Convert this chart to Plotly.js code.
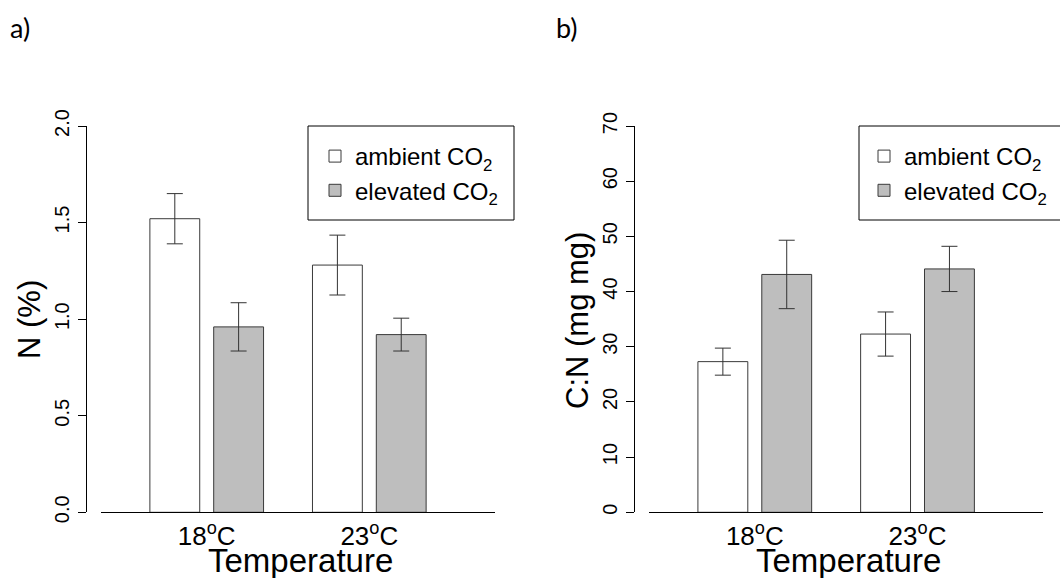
<!DOCTYPE html>
<html>
<head>
<meta charset="utf-8">
<script src="https://cdn.plot.ly/plotly-3.0.1.min.js"></script>
<style>
  html, body { margin: 0; padding: 0; background: #ffffff; }
  #chart { width: 1060px; height: 578px; }
</style>
</head>
<body>
<div id="chart"></div>
<script>
// ---- data ----
const temps = ['18<sup>o</sup>C', '23<sup>o</sup>C'];
const seriesNames = ['ambient CO<sub>2</sub>', 'elevated CO<sub>2</sub>'];

// panel a: N (%)
const nAmbient = [1.52, 1.28];
const nAmbientErr = [0.13, 0.155];
const nElevated = [0.96, 0.92];
const nElevatedErr = [0.125, 0.085];

// panel b: C:N
const cnAmbient = [27.3, 32.3];
const cnAmbientErr = [2.45, 4.0];
const cnElevated = [43.1, 44.1];
const cnElevatedErr = [6.2, 4.1];

// ---- style ----
const W = 1060, H = 578;
const px = v => v / W;
const py = v => 1 - v / H;
const FONT = 'Liberation Sans, Arial, sans-serif';
const fills = ['#ffffff', '#bebebe'];
const edge = '#3a3a3a';

function barTrace(y, err, idx, xa, ya, leg) {
  return {
    type: 'bar',
    x: temps,
    y: y,
    name: seriesNames[idx],
    xaxis: xa,
    yaxis: ya,
    legend: leg,
    marker: { color: fills[idx], line: { color: edge, width: 1 } },
    error_y: { type: 'data', array: err, visible: true, color: '#333333', thickness: 1, width: 8 },
    hoverinfo: 'skip'
  };
}

const data = [
  barTrace(nAmbient, nAmbientErr, 0, 'x', 'y', 'legend'),
  barTrace(nElevated, nElevatedErr, 1, 'x', 'y', 'legend'),
  barTrace(cnAmbient, cnAmbientErr, 0, 'x2', 'y2', 'legend2'),
  barTrace(cnElevated, cnElevatedErr, 1, 'x2', 'y2', 'legend2')
];

const xCommon = {
  type: 'category',
  range: [-0.652, 1.773],
  showline: true, linecolor: '#000000', linewidth: 1,
  ticks: '', showgrid: false, zeroline: false,
  tickfont: { family: FONT, size: 26, color: '#000000' }
};
const yCommon = {
  anchor: 'free',
  showline: true, linecolor: '#000000', linewidth: 1,
  ticks: 'outside', ticklen: 8, tickcolor: '#000000', tickwidth: 1,
  tickangle: -90, showgrid: false, zeroline: false,
  ticklabelstandoff: 1,
  tickfont: { family: FONT, size: 20, color: '#000000' },
  domain: [py(512.3), py(126)]
};

const legendCommon = {
  bgcolor: 'rgba(0,0,0,0)', borderwidth: 0,
  font: { family: FONT, size: 24, color: '#000000' },
  xanchor: 'left', yanchor: 'top', traceorder: 'normal'
};

const layout = {
  width: W, height: H,
  margin: { l: 0, r: 0, t: 0, b: 0 },
  paper_bgcolor: '#ffffff', plot_bgcolor: 'rgba(0,0,0,0)',
  barmode: 'group', bargap: 0.215, bargroupgap: 0.219,
  showlegend: true,
  xaxis: Object.assign({}, xCommon, { domain: [px(100.7), px(495)], anchor: 'y' }),
  xaxis2: Object.assign({}, xCommon, { domain: [px(648.7), px(1043.3)], anchor: 'y2' }),
  yaxis: Object.assign({}, yCommon, { range: [0, 2], dtick: 0.5, tick0: 0, tickformat: '.1f', position: px(86) }),
  yaxis2: Object.assign({}, yCommon, { range: [0, 70], dtick: 10, tick0: 0, position: px(634) }),
  legend: Object.assign({}, legendCommon, { x: px(315), y: py(134) }),
  legend2: Object.assign({}, legendCommon, { x: px(864), y: py(134) }),
  shapes: [
    { type: 'rect', xref: 'paper', yref: 'paper', x0: px(308), x1: px(514), y0: py(220), y1: py(126),
      line: { color: '#000000', width: 1 }, fillcolor: 'rgba(0,0,0,0)' },
    { type: 'rect', xref: 'paper', yref: 'paper', x0: px(859), x1: px(1066), y0: py(220), y1: py(126),
      line: { color: '#000000', width: 1 }, fillcolor: 'rgba(0,0,0,0)' }
  ],
  annotations: [
    { text: 'N (%)', xref: 'paper', yref: 'paper', x: px(29), y: py(320), textangle: -90,
      showarrow: false, xanchor: 'center', yanchor: 'middle', font: { family: FONT, size: 31, color: '#000000' } },
    { text: 'C:N (mg mg)', xref: 'paper', yref: 'paper', x: px(577), y: py(321), textangle: -90,
      showarrow: false, xanchor: 'center', yanchor: 'middle', font: { family: FONT, size: 31, color: '#000000' } },
    { text: 'Temperature', xref: 'paper', yref: 'paper', x: px(300), y: py(560), 
      showarrow: false, xanchor: 'center', yanchor: 'middle', font: { family: FONT, size: 33, color: '#000000' } },
    { text: 'Temperature', xref: 'paper', yref: 'paper', x: px(848), y: py(560),
      showarrow: false, xanchor: 'center', yanchor: 'middle', font: { family: FONT, size: 33, color: '#000000' } },
    { text: 'a)', xref: 'paper', yref: 'paper', x: px(8), y: py(27),
      showarrow: false, xanchor: 'left', yanchor: 'middle', font: { family: 'Lato, Open Sans, sans-serif', size: 27, color: '#000000' } },
    { text: 'b)', xref: 'paper', yref: 'paper', x: px(554), y: py(27),
      showarrow: false, xanchor: 'left', yanchor: 'middle', font: { family: 'Lato, Open Sans, sans-serif', size: 27, color: '#000000' } }
  ]
};

Plotly.newPlot('chart', data, layout, { staticPlot: true, displayModeBar: false });
</script>
</body>
</html>
